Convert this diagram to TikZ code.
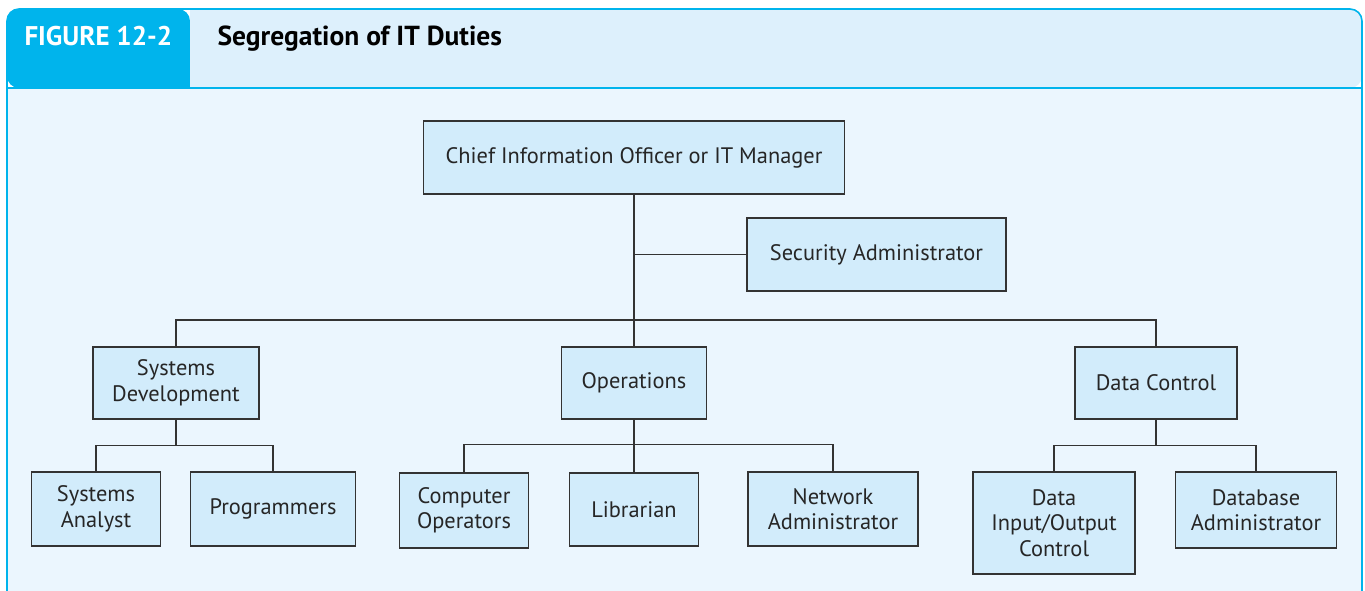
\documentclass[tikz,border=0pt]{standalone}
\usepackage{fontspec}
\setmainfont{PT Sans}
\definecolor{tabcyan}{HTML}{00B4EC}
\definecolor{headblue}{HTML}{DDF0FC}
\definecolor{bodyblue}{HTML}{EBF6FE}
\definecolor{boxblue}{HTML}{D2ECFB}
\definecolor{linegray}{HTML}{333333}
\begin{document}
\begin{tikzpicture}[x=1pt,y=-1pt]
\tikzstyle{b}=[draw=linegray,fill=boxblue,line width=1.4pt,inner sep=0pt,align=center,text=black!85,font=\fontsize{22.4}{25.5}\selectfont]
\tikzstyle{l}=[draw=linegray,line width=1.4pt]
\useasboundingbox (0,0) rectangle (1365,590);
\begin{scope}
\clip (0,0) rectangle (1365,590);
% Frame and header
\fill[bodyblue] (7,88) rectangle (1362,600);
\fill[tabcyan,rounded corners=12pt] (190,88) -- (7,88) -- (7,9) -- (190,9) [sharp corners] -- cycle;
\fill[headblue] (190,88) -- (190,9) [rounded corners=12pt] -- (1362,9) -- (1362,88) [sharp corners] -- cycle;
\draw[tabcyan,line width=1.6pt,rounded corners=12pt] (7,600) -- (7,9) -- (1362,9) -- (1362,600);
\draw[tabcyan,line width=1.6pt] (7,88) -- (1362,88);
\end{scope}
\node[anchor=base west,text=white,font=\fontsize{27}{30}\selectfont\bfseries] (fig) at (21,45) {FIGURE 12-2};
\node[anchor=base west,font=\fontsize{27.5}{30}\selectfont\bfseries] (title) at (214,45) {Segregation of IT Duties};

% Top level
\node[b,minimum width=421pt,minimum height=73pt] (cio) at (634,157.5) {Chief Information Officer or IT Manager};
\node[b,minimum width=259pt,minimum height=73pt] (sec) at (876.5,254.5) {Security Administrator};

% Second level
\node[b,minimum width=166pt,minimum height=72pt] (dev) at (176,383) {Systems\\Development};
\node[b,minimum width=145pt,minimum height=72pt] (ops) at (634,383) {Operations};
\node[b,minimum width=162pt,minimum height=72pt] (dc) at (1156,383) {Data Control};

% Third level
\node[b,minimum width=129pt,minimum height=74pt] (sa) at (96,509) {Systems\\Analyst};
\node[b,minimum width=165pt,minimum height=74pt] (prog) at (273,509) {Programmers};
\node[b,minimum width=129pt,minimum height=75pt] (co) at (464,510.5) {Computer\\Operators};
\node[b,minimum width=129pt,minimum height=73pt] (lib) at (634,509.5) {Librarian};
\node[b,minimum width=170pt,minimum height=74pt] (na) at (833,509) {Network\\Administrator};
\node[b,minimum width=162pt,minimum height=102pt] (dio) at (1054,523) {Data\\Input/Output\\Control};
\node[b,minimum width=161pt,minimum height=76pt] (dba) at (1256,510) {Database\\Administrator};

% Connectors
\coordinate (bar) at (634,320);
\draw[l] (cio.south) |- (sec.west);
\draw[l] (cio.south) -- (ops.north);
\draw[l] (dev.north) |- (bar) -| (dc.north);
\draw[l] (dev.south) -- ++(0,26) coordinate (dj);
\draw[l] (sa.north) |- (dj) -| (prog.north);
\draw[l] (ops.south) -- ++(0,25) coordinate (oj);
\draw[l] (co.north) |- (oj) -| (na.north);
\draw[l] (oj) -- (lib.north);
\draw[l] (dc.south) -- ++(0,26) coordinate (cj);
\draw[l] (dio.north) |- (cj) -| (dba.north);
\end{tikzpicture}
\end{document}
